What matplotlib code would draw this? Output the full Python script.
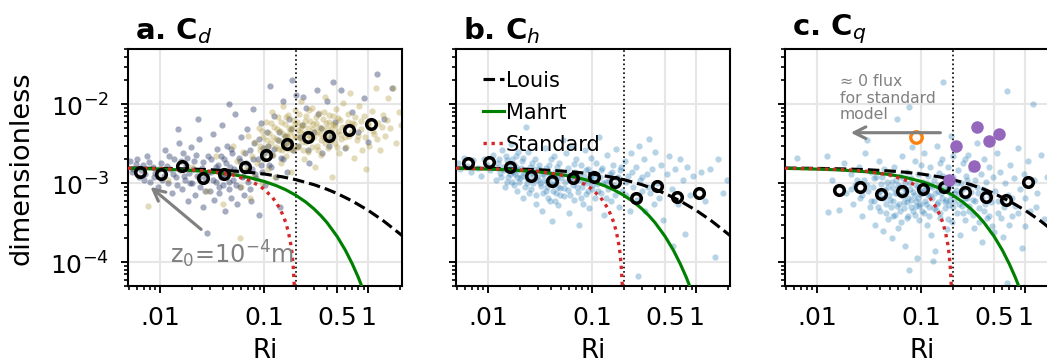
import matplotlib
matplotlib.use("Agg")
import matplotlib.pyplot as plt
from matplotlib.ticker import NullFormatter, LogLocator

# ---------------- model curves ----------------
louis_ri = [0.0049, 0.007, 0.01, 0.015, 0.02, 0.03, 0.05, 0.07, 0.1, 0.15, 0.2,
            0.3, 0.4, 0.5, 0.7, 1.0, 1.4, 2.1]
louis_c = [1.555e-3, 1.549e-3, 1.540e-3, 1.525e-3, 1.511e-3, 1.482e-3, 1.429e-3,
           1.378e-3, 1.307e-3, 1.202e-3, 1.110e-3, 9.58e-4, 8.38e-4, 7.41e-4,
           5.95e-4, 4.51e-4, 3.32e-4, 2.18e-4]

mahrt_ri = [0.0049, 0.007, 0.01, 0.015, 0.02, 0.03, 0.05, 0.07, 0.1, 0.13, 0.16,
            0.2, 0.25, 0.3, 0.35, 0.4, 0.5, 0.6, 0.7, 0.8, 0.9]
mahrt_c = [1.540e-3, 1.527e-3, 1.508e-3, 1.479e-3, 1.449e-3, 1.392e-3, 1.285e-3,
           1.187e-3, 1.052e-3, 9.33e-4, 8.28e-4, 7.05e-4, 5.78e-4, 4.73e-4,
           3.87e-4, 3.17e-4, 2.12e-4, 1.42e-4, 9.5e-5, 6.4e-5, 4.3e-5]

std_ri = [0.0049, 0.01, 0.02, 0.03, 0.05, 0.07, 0.09, 0.1, 0.12, 0.14, 0.15, 0.16,
          0.17, 0.18, 0.185, 0.19, 0.194]
std_c = [1.546e-3, 1.523e-3, 1.476e-3, 1.413e-3, 1.272e-3, 1.099e-3, 9.26e-4,
         8.32e-4, 6.59e-4, 4.87e-4, 4.0e-4, 3.22e-4, 2.43e-4, 1.65e-4, 1.26e-4,
         8.3e-5, 5.0e-5]

# ---------------- bin means (open circles) ----------------
bin_ri = [0.0064, 0.0102, 0.0162, 0.0256, 0.041, 0.065, 0.103, 0.164, 0.263,
          0.416, 0.655, 1.05]
bin_cd = [1.40e-3, 1.32e-3, 1.67e-3, 1.18e-3, 1.30e-3, 1.62e-3, 2.28e-3, 3.13e-3,
          3.88e-3, 3.92e-3, 4.66e-3, 5.56e-3]
bin_ch = [1.82e-3, 1.86e-3, 1.59e-3, 1.25e-3, 1.08e-3, 1.16e-3, 1.21e-3, 1.03e-3,
          6.47e-4, 9.25e-4, 6.66e-4, 7.6e-4]
bin_ri_q = [0.0161, 0.0256, 0.041, 0.065, 0.103, 0.164, 0.264, 0.418, 0.65, 1.05]
bin_cq = [8.23e-4, 9.06e-4, 7.33e-4, 8.07e-4, 8.56e-4, 8.9e-4, 7.7e-4, 6.66e-4,
          6.1e-4, 1.03e-3]

# special points in panel c
purple_ri = [0.217, 0.342, 0.442, 0.56, 0.32, 0.186]
purple_cq = [2.96e-3, 5.14e-3, 3.42e-3, 4.16e-3, 1.65e-3, 1.10e-3]
orange_ri = [0.089]
orange_cq = [3.87e-3]

# ---------------- individual samples (scatter clouds) ----------------
cd_blue = [
    (0.0051, 1.9e-3), (0.0055, 1.5e-3), (0.006, 2.0e-3), (0.0063, 1.2e-3), (0.0068, 1.7e-3),
    (0.0072, 1.3e-3), (0.0075, 2.2e-3), (0.008, 1.05e-3), (0.0085, 1.6e-3), (0.009, 1.35e-3),
    (0.0095, 9.0e-4), (0.0102, 1.8e-3), (0.0108, 1.25e-3), (0.0112, 2.6e-3), (0.0118, 1.0e-3),
    (0.0125, 1.5e-3), (0.013, 7.5e-4), (0.0136, 2.0e-3), (0.0142, 1.2e-3), (0.0148, 4.9e-3),
    (0.015, 3.2e-3), (0.0155, 1.45e-3), (0.016, 8.5e-4), (0.0166, 2.4e-3), (0.0172, 1.1e-3),
    (0.0178, 1.7e-3), (0.0185, 6.0e-4), (0.019, 1.35e-3), (0.0196, 2.9e-3), (0.0203, 1.0e-3),
    (0.021, 1.9e-3), (0.0218, 7.0e-4), (0.0225, 1.25e-3), (0.0229, 6.5e-3), (0.0235, 3.6e-3),
    (0.024, 9.0e-4), (0.025, 1.55e-3), (0.026, 5.0e-4), (0.027, 1.15e-3), (0.0281, 2.34e-4),
    (0.029, 2.2e-3), (0.03, 8.0e-4), (0.031, 1.4e-3), (0.032, 4.2e-3), (0.033, 6.2e-4),
    (0.034, 1.05e-3), (0.035, 2.7e-3), (0.036, 1.7e-3), (0.037, 7.5e-4), (0.038, 1.2e-3),
    (0.039, 5.5e-3), (0.04, 9.5e-4), (0.041, 2.0e-3), (0.042, 4.5e-4), (0.043, 1.3e-3),
    (0.044, 3.0e-3), (0.0454, 1.0e-2), (0.046, 8.5e-4), (0.047, 1.6e-3), (0.048, 6.5e-4),
    (0.049, 2.4e-3), (0.05, 1.1e-3), (0.052, 7.5e-3), (0.053, 1.4e-3), (0.055, 5.5e-4),
    (0.057, 2.1e-3), (0.059, 9.0e-4), (0.06, 3.8e-3), (0.062, 1.25e-3), (0.064, 7.0e-4),
    (0.066, 1.8e-3), (0.068, 4.8e-3), (0.07, 1.05e-3), (0.072, 2.6e-3), (0.074, 6.0e-4),
    (0.076, 1.5e-3), (0.078, 8.8e-3), (0.08, 3.2e-3), (0.083, 1.15e-3), (0.086, 2.0e-3),
    (0.089, 4.0e-4), (0.092, 5.8e-3), (0.095, 1.4e-3), (0.098, 2.8e-3), (0.102, 9.5e-4),
    (0.106, 4.4e-3), (0.11, 1.7e-3), (0.114, 1.69e-2), (0.118, 2.3e-3), (0.123, 7.0e-3),
    (0.128, 1.2e-3), (0.134, 3.5e-3), (0.14, 5.0e-4), (0.146, 2.1e-3), (0.152, 1.1e-2),
    (0.158, 4.0e-3), (0.165, 1.4e-3), (0.172, 6.5e-3), (0.184, 2.05e-2), (0.19, 2.6e-3),
    (0.2, 1.3e-2), (0.21, 3.0e-3), (0.23, 5.5e-3), (0.237, 1.22e-2), (0.25, 9.0e-3),
    (0.27, 1.8e-3), (0.3, 4.5e-3), (0.32, 1.5e-2), (0.33, 7.5e-3), (0.36, 2.4e-3),
    (0.4, 1.1e-2), (0.44, 3.8e-3), (0.46, 1.92e-2), (0.48, 6.0e-3), (0.55, 1.5e-2),
    (0.6, 2.8e-3), (0.7, 8.0e-3), (0.8, 4.5e-3), (0.9, 1.2e-2), (1.0, 3.3e-3),
    (1.2, 2.4e-2), (1.4, 6.5e-3), (1.7, 1.6e-2),
    (0.0053, 1.4e-3), (0.0058, 1.75e-3), (0.0065, 1.45e-3), (0.007, 1.1e-3), (0.0078, 1.85e-3),
    (0.0088, 1.2e-3), (0.0098, 1.5e-3), (0.0105, 1.1e-3), (0.0115, 1.65e-3), (0.0122, 2.2e-3),
    (0.0133, 1.3e-3), (0.0145, 9.5e-4), (0.0158, 1.9e-3), (0.0169, 1.25e-3), (0.0182, 2.1e-3),
    (0.0193, 1.0e-3), (0.0207, 1.5e-3), (0.0222, 2.3e-3), (0.0238, 1.2e-3), (0.0255, 1.85e-3),
    (0.0268, 8.0e-4), (0.0285, 1.4e-3), (0.0305, 2.0e-3), (0.0322, 1.1e-3), (0.0342, 1.6e-3),
    (0.0365, 9.0e-4), (0.0385, 2.2e-3), (0.0405, 1.3e-3), (0.043, 1.8e-3), (0.0455, 1.05e-3),
    (0.048, 2.7e-3), (0.051, 1.5e-3), (0.054, 9.5e-4), (0.058, 1.9e-3), (0.061, 1.2e-3),
    (0.065, 2.4e-3), (0.069, 1.45e-3), (0.073, 8.5e-4), (0.077, 2.0e-3), (0.081, 1.3e-3),
    (0.088, 3.6e-3), (0.093, 1.7e-3), (0.1, 2.4e-3), (0.108, 3.0e-3), (0.116, 1.6e-3),
    (0.125, 2.7e-3), (0.137, 4.5e-3), (0.15, 2.0e-3), (0.16, 3.2e-3), (0.18, 4.8e-3),
    (0.22, 3.8e-3), (0.26, 2.6e-3), (0.35, 5.0e-3), (0.42, 3.0e-3),
]
cd_tan = [
    (0.0077, 5.2e-4), (0.012, 1.1e-3), (0.02, 1.6e-3), (0.028, 8.0e-4), (0.034, 2.2e-3),
    (0.04, 5.5e-4), (0.045, 1.3e-3), (0.05, 3.0e-3), (0.055, 1.9e-3), (0.058, 2.0e-4),
    (0.06, 9.0e-4), (0.063, 2.5e-3), (0.066, 1.5e-3), (0.07, 4.0e-3), (0.073, 6.5e-4),
    (0.076, 2.2e-3), (0.079, 1.2e-3), (0.082, 3.3e-3), (0.085, 1.8e-3), (0.088, 5.0e-3),
    (0.091, 2.6e-3), (0.094, 1.0e-3), (0.097, 3.8e-3), (0.1, 2.0e-3), (0.103, 6.0e-3),
    (0.106, 2.9e-3), (0.109, 1.5e-3), (0.112, 4.3e-3), (0.115, 3.2e-3), (0.118, 8.0e-3),
    (0.121, 2.3e-3), (0.124, 5.2e-3), (0.127, 1.2e-3), (0.13, 3.6e-3), (0.134, 6.8e-3),
    (0.138, 2.7e-3), (0.142, 4.6e-3), (0.146, 1.8e-3), (0.15, 9.5e-3), (0.154, 3.1e-3),
    (0.158, 5.6e-3), (0.162, 2.2e-3), (0.166, 4.0e-3), (0.17, 7.2e-3), (0.175, 3.4e-3),
    (0.18, 1.4e-3), (0.185, 5.0e-3), (0.19, 2.6e-3), (0.195, 8.5e-3), (0.2, 3.8e-3),
    (0.206, 6.0e-3), (0.212, 2.9e-3), (0.218, 4.4e-3), (0.224, 1.1e-2), (0.23, 3.3e-3),
    (0.236, 5.4e-3), (0.243, 2.0e-3), (0.25, 7.0e-3), (0.257, 4.1e-3), (0.264, 2.5e-3),
    (0.272, 6.2e-3), (0.28, 3.6e-3), (0.288, 9.0e-3), (0.296, 4.8e-3), (0.305, 1.6e-3),
    (0.314, 5.8e-3), (0.323, 3.0e-3), (0.333, 7.8e-3), (0.343, 4.2e-3), (0.353, 2.3e-3),
    (0.364, 6.5e-3), (0.375, 3.9e-3), (0.386, 1.25e-2), (0.398, 5.0e-3), (0.41, 2.8e-3),
    (0.422, 7.2e-3), (0.435, 4.4e-3), (0.448, 1.2e-3), (0.46, 5.6e-3), (0.475, 3.2e-3),
    (0.49, 8.8e-3), (0.505, 4.6e-3), (0.52, 2.4e-3), (0.535, 6.4e-3), (0.55, 3.6e-3),
    (0.57, 1.05e-2), (0.59, 5.2e-3), (0.61, 2.9e-3), (0.63, 7.5e-3), (0.65, 4.0e-3),
    (0.67, 1.4e-2), (0.69, 5.8e-3), (0.72, 2.1e-3), (0.75, 6.8e-3), (0.78, 3.5e-3),
    (0.81, 9.5e-3), (0.84, 4.8e-3), (0.87, 2.6e-3), (0.9, 7.0e-3), (0.94, 1.5e-3),
    (0.98, 5.4e-3), (1.02, 3.0e-3), (1.07, 8.2e-3), (1.12, 4.2e-3), (1.18, 1.6e-2),
    (1.24, 5.8e-3), (1.3, 2.6e-3), (1.37, 7.4e-3), (1.45, 4.0e-3), (1.53, 1.2e-2),
    (1.62, 5.0e-3), (1.72, 1.6e-2), (1.82, 3.2e-3), (1.95, 8.0e-3), (2.05, 5.5e-3),
    (0.09, 3.0e-3), (0.095, 4.6e-3), (0.105, 3.5e-3), (0.11, 2.4e-3), (0.116, 5.8e-3),
    (0.122, 3.9e-3), (0.128, 2.9e-3), (0.132, 4.8e-3), (0.14, 3.4e-3), (0.144, 6.0e-3),
    (0.148, 2.6e-3), (0.152, 4.2e-3), (0.156, 3.0e-3), (0.16, 6.8e-3), (0.164, 3.8e-3),
    (0.168, 2.7e-3), (0.172, 5.0e-3), (0.177, 4.4e-3), (0.182, 3.1e-3), (0.188, 6.4e-3),
    (0.193, 4.0e-3), (0.198, 5.6e-3), (0.203, 2.9e-3), (0.209, 4.7e-3), (0.215, 7.6e-3),
    (0.221, 3.7e-3), (0.227, 5.2e-3), (0.233, 2.6e-3), (0.24, 4.3e-3), (0.247, 6.2e-3),
    (0.254, 3.3e-3), (0.261, 5.0e-3), (0.268, 8.4e-3), (0.276, 4.0e-3), (0.284, 2.9e-3),
    (0.292, 5.6e-3), (0.3, 3.8e-3), (0.31, 6.8e-3), (0.319, 4.4e-3), (0.328, 2.6e-3),
    (0.338, 5.2e-3), (0.348, 3.5e-3), (0.358, 4.8e-3), (0.37, 8.0e-3), (0.38, 3.2e-3),
    (0.392, 5.8e-3), (0.404, 4.0e-3), (0.416, 6.0e-3), (0.43, 3.4e-3), (0.442, 5.0e-3),
    (0.455, 7.0e-3), (0.468, 3.9e-3), (0.482, 5.4e-3), (0.497, 2.9e-3), (0.512, 6.6e-3),
    (0.53, 4.2e-3), (0.56, 5.2e-3), (0.6, 3.9e-3), (0.64, 6.0e-3), (0.68, 4.4e-3),
    (0.73, 5.6e-3), (0.79, 4.0e-3), (0.85, 6.2e-3), (0.92, 3.8e-3), (1.0, 5.8e-3),
    (1.1, 4.6e-3), (1.2, 3.6e-3), (1.35, 5.2e-3), (1.5, 6.4e-3),
]
ch_pts = [
    (0.0051, 1.8e-3), (0.0054, 1.5e-3), (0.0058, 2.1e-3), (0.0062, 1.65e-3), (0.0068, 1.4e-3),
    (0.0072, 1.95e-3), (0.0079, 1.55e-3), (0.0085, 1.25e-3), (0.0092, 2.05e-3), (0.0098, 1.7e-3),
    (0.0105, 1.45e-3), (0.011, 2.3e-3), (0.0118, 1.1e-3), (0.0124, 1.8e-3), (0.013, 1.35e-3),
    (0.0135, 2.6e-3), (0.014, 1.6e-3), (0.0146, 9.0e-4), (0.015, 1.95e-3), (0.0155, 1.2e-3),
    (0.016, 1.5e-3), (0.0166, 3.1e-3), (0.017, 1.05e-3), (0.0175, 1.75e-3), (0.018, 1.3e-3),
    (0.0186, 2.2e-3), (0.019, 8.0e-4), (0.0195, 1.45e-3), (0.0202, 1.15e-3), (0.021, 1.9e-3),
    (0.0215, 6.5e-4), (0.022, 1.35e-3), (0.023, 5.2e-3), (0.0235, 1.0e-3), (0.024, 2.5e-3),
    (0.025, 1.6e-3), (0.026, 8.5e-4), (0.027, 1.25e-3), (0.028, 2.0e-3), (0.029, 7.0e-4),
    (0.03, 1.1e-3), (0.031, 1.5e-3), (0.032, 9.2e-4), (0.033, 4.5e-4), (0.034, 1.3e-3),
    (0.035, 2.8e-3), (0.036, 8.0e-4), (0.037, 1.05e-3), (0.038, 1.7e-3), (0.039, 6.0e-4),
    (0.04, 1.2e-3), (0.041, 3.3e-4), (0.042, 9.5e-4), (0.043, 2.2e-3), (0.044, 1.4e-3),
    (0.045, 7.5e-4), (0.046, 1.15e-3), (0.047, 5.3e-4), (0.048, 1.8e-3), (0.049, 8.8e-4),
    (0.051, 1.3e-3), (0.052, 3.5e-3), (0.053, 6.8e-4), (0.055, 1.05e-3), (0.056, 2.4e-3),
    (0.058, 8.2e-4), (0.059, 1.55e-3), (0.06, 4.2e-4), (0.062, 1.2e-3), (0.063, 2.9e-3),
    (0.065, 9.5e-4), (0.066, 6.2e-4), (0.068, 1.4e-3), (0.07, 2.0e-3), (0.072, 7.8e-4),
    (0.073, 1.1e-3), (0.075, 3.0e-4), (0.077, 1.7e-3), (0.079, 9.0e-4), (0.081, 5.5e-4),
    (0.083, 1.25e-3), (0.085, 2.6e-3), (0.087, 7.2e-4), (0.089, 1.0e-3), (0.091, 1.5e-3),
    (0.093, 4.8e-4), (0.095, 1.15e-3), (0.097, 2.1e-3), (0.099, 8.5e-4), (0.102, 1.35e-3),
    (0.105, 6.5e-4), (0.108, 1.8e-3), (0.111, 9.8e-4), (0.115, 3.8e-3), (0.118, 1.2e-3),
    (0.122, 7.5e-4), (0.125, 1.55e-3), (0.13, 4.0e-4), (0.134, 1.05e-3), (0.138, 2.3e-3),
    (0.142, 8.5e-4), (0.147, 1.3e-3), (0.152, 6.0e-4), (0.157, 1.7e-3), (0.163, 9.5e-4),
    (0.168, 2.7e-3), (0.174, 1.15e-3), (0.18, 5.0e-4), (0.186, 1.45e-3), (0.193, 8.0e-4),
    (0.205, 1.9e-3), (0.212, 7.0e-4), (0.22, 1.25e-3), (0.228, 4.5e-4), (0.236, 2.4e-3),
    (0.245, 9.0e-4), (0.26, 1.6e-3), (0.27, 6.2e-4), (0.272, 6.6e-5), (0.28, 3.0e-3),
    (0.29, 1.1e-3), (0.3, 8.0e-4), (0.31, 2.0e-3), (0.32, 4.5e-4), (0.335, 1.3e-3),
    (0.35, 3.6e-3), (0.36, 7.5e-4), (0.375, 1.5e-3), (0.39, 5.5e-4), (0.4, 2.5e-3),
    (0.42, 1.0e-3), (0.44, 6.5e-4), (0.46, 1.7e-3), (0.48, 3.4e-4), (0.52, 1.3e-3),
    (0.55, 2.2e-3), (0.58, 8.5e-4), (0.6, 1.6e-4), (0.62, 1.5e-3), (0.66, 5.5e-4),
    (0.7, 2.0e-3), (0.74, 1.1e-3), (0.78, 2.3e-4), (0.82, 1.6e-3), (0.87, 7.0e-4),
    (0.92, 1.25e-3), (1.1, 1.4e-3), (1.2, 6.0e-4), (1.35, 1.5e-3), (1.5, 1.15e-4),
    (1.6, 2.0e-3), (1.8, 7.5e-4), (1.95, 1.1e-3),
    (0.0122, 1.55e-3), (0.0128, 2.0e-3), (0.0133, 1.2e-3), (0.0143, 1.45e-3), (0.0148, 2.2e-3),
    (0.0152, 1.05e-3), (0.0158, 1.75e-3), (0.0163, 1.3e-3), (0.0168, 2.0e-3), (0.0173, 1.4e-3),
    (0.0178, 9.5e-4), (0.0183, 1.6e-3), (0.0188, 1.2e-3), (0.0193, 2.5e-3), (0.0198, 1.05e-3),
    (0.0206, 1.55e-3), (0.0212, 1.25e-3), (0.0218, 2.1e-3), (0.0225, 9.0e-4), (0.0232, 1.45e-3),
    (0.0238, 1.15e-3), (0.0245, 7.5e-4), (0.0255, 1.35e-3), (0.0262, 1.8e-3), (0.0268, 1.0e-3),
    (0.0275, 1.5e-3), (0.0285, 5.5e-4), (0.0295, 1.2e-3), (0.0305, 1.7e-3), (0.0315, 1.0e-3),
    (0.0325, 1.3e-3), (0.0335, 7.5e-4), (0.0345, 1.1e-3), (0.0355, 1.55e-3), (0.0365, 9.0e-4),
    (0.0375, 6.5e-4), (0.0385, 1.35e-3), (0.0395, 1.0e-3), (0.0405, 2.0e-3), (0.0415, 8.0e-4),
    (0.0425, 1.25e-3), (0.0435, 6.0e-4), (0.0445, 1.05e-3), (0.0455, 1.6e-3), (0.0465, 9.0e-4),
    (0.0475, 1.3e-3), (0.0485, 7.0e-4), (0.05, 1.15e-3), (0.054, 8.8e-4), (0.057, 1.3e-3),
    (0.061, 7.0e-4), (0.064, 1.1e-3), (0.067, 1.75e-3), (0.071, 9.0e-4), (0.074, 1.3e-3),
    (0.078, 6.5e-4), (0.082, 1.05e-3), (0.086, 1.45e-3), (0.09, 8.0e-4), (0.094, 1.2e-3),
    (0.1, 9.5e-4), (0.107, 1.2e-3), (0.113, 8.0e-4), (0.12, 1.45e-3), (0.127, 1.0e-3),
    (0.136, 6.5e-4), (0.145, 1.1e-3), (0.155, 1.4e-3), (0.165, 7.0e-4), (0.178, 1.2e-3),
    (0.19, 1.6e-3), (0.21, 1.05e-3), (0.24, 1.4e-3), (0.3, 1.2e-3), (0.34, 9.0e-4),
]
cq_pts = [
    (0.0064, 2.1e-3), (0.0125, 2.2e-3), (0.0127, 4.3e-4), (0.016, 4.6e-4), (0.014, 1.1e-3),
    (0.018, 1.8e-3), (0.019, 7.5e-4), (0.021, 1.3e-3), (0.022, 5.5e-4), (0.023, 9.5e-4),
    (0.025, 1.6e-3), (0.026, 6.5e-4), (0.027, 3.8e-4), (0.028, 1.1e-3), (0.029, 2.4e-3),
    (0.03, 3.5e-3), (0.031, 8.0e-4), (0.032, 5.0e-4), (0.033, 1.4e-3), (0.034, 9.0e-4),
    (0.035, 6.0e-4), (0.036, 3.0e-4), (0.037, 1.2e-3), (0.038, 7.2e-4), (0.039, 1.9e-3),
    (0.04, 4.5e-4), (0.041, 9.8e-4), (0.042, 6.5e-4), (0.043, 2.5e-4), (0.044, 1.5e-3),
    (0.045, 8.2e-4), (0.046, 5.5e-4), (0.047, 1.05e-3), (0.048, 3.5e-4), (0.049, 7.0e-4),
    (0.05, 1.3e-3), (0.051, 5.0e-4), (0.052, 2.0e-4), (0.053, 8.8e-4), (0.054, 6.0e-4),
    (0.055, 1.6e-3), (0.056, 4.0e-4), (0.057, 1.1e-3), (0.058, 6.5e-3), (0.059, 7.5e-4),
    (0.06, 2.7e-4), (0.061, 5.5e-4), (0.062, 1.25e-3), (0.063, 9.0e-4), (0.064, 3.2e-4),
    (0.065, 2.2e-3), (0.066, 6.8e-4), (0.068, 4.8e-4), (0.069, 1.0e-3), (0.07, 1.6e-4),
    (0.071, 7.8e-4), (0.072, 1.4e-3), (0.073, 5.8e-4), (0.075, 3.8e-4), (0.076, 9.3e-3),
    (0.0765, 8.0e-5), (0.078, 8.5e-4), (0.079, 6.2e-4), (0.08, 1.15e-3), (0.082, 2.9e-3),
    (0.083, 4.4e-4), (0.085, 7.0e-4), (0.086, 1.9e-3), (0.088, 5.2e-4), (0.089, 9.5e-4),
    (0.09, 1.13e-4), (0.092, 6.5e-4), (0.093, 1.3e-3), (0.095, 3.4e-4), (0.096, 8.0e-4),
    (0.098, 5.5e-4), (0.099, 1.7e-3), (0.101, 7.5e-4), (0.103, 1.05e-3), (0.105, 4.2e-4),
    (0.107, 2.4e-3), (0.109, 6.0e-4), (0.111, 8.8e-4), (0.113, 3.0e-4), (0.115, 1.25e-3),
    (0.117, 7.0e-4), (0.119, 5.0e-4), (0.121, 1.6e-3), (0.123, 9.5e-4), (0.125, 2.2e-4),
    (0.127, 6.5e-4), (0.13, 1.03e-4), (0.132, 1.1e-3), (0.135, 1.4e-4), (0.137, 4.6e-4),
    (0.14, 3.0e-3), (0.143, 8.0e-4), (0.146, 5.8e-4), (0.149, 1.35e-3), (0.152, 3.6e-4),
    (0.155, 7.5e-4), (0.158, 2.0e-3), (0.161, 1.9e-2), (0.164, 9.0e-4), (0.167, 4.8e-4),
    (0.17, 1.15e-3), (0.173, 6.2e-4), (0.176, 2.6e-4), (0.179, 1.6e-3), (0.182, 8.5e-4),
    (0.185, 5.3e-4), (0.188, 1.05e-3), (0.191, 4.0e-3), (0.194, 7.0e-4), (0.197, 3.2e-4),
    (0.203, 1.2e-3), (0.207, 6.0e-4), (0.212, 2.6e-3), (0.216, 8.2e-4), (0.22, 4.2e-4),
    (0.225, 1.45e-3), (0.23, 7.2e-4), (0.235, 2.2e-4), (0.24, 1.0e-3), (0.245, 5.2e-4),
    (0.25, 1.8e-3), (0.256, 8.8e-4), (0.262, 3.4e-4), (0.268, 1.25e-3), (0.274, 6.5e-4),
    (0.28, 2.3e-3), (0.287, 4.5e-4), (0.294, 9.5e-4), (0.3, 1.5e-3), (0.31, 6.2e-4),
    (0.32, 2.7e-4), (0.33, 1.1e-3), (0.34, 3.2e-3), (0.35, 7.5e-4), (0.36, 4.8e-4),
    (0.37, 1.3e-3), (0.38, 1.8e-4), (0.39, 8.5e-4), (0.4, 2.0e-3), (0.41, 5.5e-4),
    (0.42, 1.05e-3), (0.43, 3.6e-4), (0.45, 1.6e-3), (0.46, 6.8e-4), (0.48, 2.9e-4),
    (0.49, 1.2e-3), (0.51, 8.0e-4), (0.53, 2.4e-3), (0.55, 4.2e-4), (0.57, 1.4e-3),
    (0.59, 6.0e-4), (0.61, 2.1e-4), (0.63, 1.0e-3), (0.66, 1.48e-2), (0.665, 5.5e-5),
    (0.68, 7.0e-4), (0.71, 1.7e-3), (0.74, 3.8e-4), (0.77, 1.15e-3), (0.8, 5.2e-4),
    (0.84, 2.8e-3), (0.88, 8.5e-4), (0.92, 1.5e-4), (0.96, 1.3e-3), (1.0, 6.5e-4),
    (1.05, 1.9e-3), (1.1, 4.5e-4), (1.18, 1.0e-2), (1.2, 1.1e-3), (1.3, 7.5e-4),
    (1.4, 2.3e-3), (1.5, 3.5e-4), (1.6, 1.2e-3),
    (0.021, 8.5e-4), (0.024, 1.1e-3), (0.027, 7.0e-4), (0.03, 9.5e-4), (0.033, 6.0e-4),
    (0.035, 1.15e-3), (0.038, 5.0e-4), (0.04, 8.0e-4), (0.042, 1.2e-3), (0.044, 6.5e-4),
    (0.046, 4.2e-4), (0.048, 9.0e-4), (0.05, 6.2e-4), (0.052, 1.05e-3), (0.054, 3.8e-4),
    (0.056, 7.5e-4), (0.058, 5.2e-4), (0.06, 9.5e-4), (0.062, 4.5e-4), (0.064, 7.0e-4),
    (0.066, 1.15e-3), (0.068, 5.8e-4), (0.07, 8.5e-4), (0.072, 3.6e-4), (0.074, 6.5e-4),
    (0.077, 1.0e-3), (0.08, 5.0e-4), (0.083, 7.8e-4), (0.086, 4.0e-4), (0.089, 6.0e-4),
    (0.092, 9.0e-4), (0.095, 5.2e-4), (0.098, 7.2e-4), (0.102, 4.5e-4), (0.106, 8.2e-4),
    (0.11, 5.5e-4), (0.114, 1.0e-3), (0.118, 3.8e-4), (0.122, 6.8e-4), (0.126, 9.0e-4),
    (0.131, 4.8e-4), (0.136, 7.5e-4), (0.141, 5.5e-4), (0.146, 9.5e-4), (0.151, 4.2e-4),
    (0.157, 6.5e-4), (0.163, 1.25e-3), (0.169, 5.8e-4), (0.175, 8.0e-4), (0.181, 3.5e-4),
    (0.187, 6.2e-4), (0.193, 9.5e-4), (0.2, 5.0e-4), (0.208, 7.5e-4), (0.218, 1.0e-3),
    (0.228, 5.5e-4), (0.238, 8.0e-4), (0.25, 4.2e-4), (0.26, 6.5e-4), (0.272, 1.1e-3),
    (0.285, 5.2e-4), (0.298, 7.8e-4), (0.315, 4.0e-4), (0.33, 6.0e-4), (0.345, 9.0e-4),
    (0.36, 3.2e-4), (0.38, 6.5e-4), (0.4, 4.5e-4), (0.42, 8.0e-4), (0.45, 3.8e-4),
    (0.47, 5.8e-4), (0.5, 2.4e-4), (0.54, 6.0e-4), (0.58, 3.6e-4), (0.62, 5.0e-4),
    (0.7, 3.0e-4), (0.75, 6.5e-4), (0.85, 4.2e-4), (1.0, 2.9e-4), (1.25, 5.0e-4),
    (0.2, 2.2e-3), (0.26, 2.0e-3), (0.33, 1.6e-3), (0.15, 1.8e-3),
]

titles = ["a. C$_d$", "b. C$_h$", "c. C$_q$"]
xtick_vals = [0.01, 0.1, 0.5, 1]
xtick_labels = [".01", "0.1", "0.5", "1"]

# ---------------- figure ----------------
W, H = 1047, 365
fig = plt.figure(figsize=(W / 150, H / 150), dpi=150)
ax_w, ax_h = 274 / W, 237 / H
bottom = 1 - 287 / H
lefts = [128 / W, 456 / W, 785 / W]
axes = [fig.add_axes([l, bottom, ax_w, ax_h]) for l in lefts]

blue = "#1f77b4"
for i, ax in enumerate(axes):
    ax.set_xscale("log")
    ax.set_yscale("log")
    ax.set_xlim(0.0049, 2.1)
    ax.set_ylim(5e-5, 5e-2)
    ax.set_axisbelow(True)
    ax.grid(True, which="major", color="#e6e6e6", lw=1.0)
    ax.set_xticks(xtick_vals)
    ax.set_xticklabels(xtick_labels)
    ax.xaxis.set_minor_locator(LogLocator(base=10, subs=range(2, 10), numticks=20))
    ax.xaxis.set_minor_formatter(NullFormatter())
    ax.yaxis.set_minor_locator(LogLocator(base=10, subs=range(2, 10), numticks=20))
    ax.yaxis.set_minor_formatter(NullFormatter())
    ax.tick_params(which="major", labelsize=12, length=3.5, width=0.9, pad=5.5)
    ax.tick_params(which="minor", length=2.0, width=0.8)
    for s in ax.spines.values():
        s.set_linewidth(1.0)
    ax.set_xlabel("Ri", fontsize=12.5, labelpad=4)
    ax.text(0.025, 1.015, titles[i], transform=ax.transAxes, fontsize=14,
            fontweight="bold", ha="left", va="bottom")
    if i > 0:
        ax.tick_params(labelleft=False)
    ax.axvline(0.2, color="black", lw=0.8, ls=":", zorder=2)

axes[0].set_ylabel("dimensionless", fontsize=13, labelpad=7.5)

# scatter clouds
x, y = zip(*cd_blue)
axes[0].scatter(x, y, s=9, color="#2b3a67", alpha=0.42, lw=0, zorder=1)
x, y = zip(*cd_tan)
axes[0].scatter(x, y, s=9, color="#a8902a", alpha=0.33, lw=0, zorder=1)
x, y = zip(*ch_pts)
axes[1].scatter(x, y, s=9, color=blue, alpha=0.32, lw=0, zorder=1)
x, y = zip(*cq_pts)
axes[2].scatter(x, y, s=9, color=blue, alpha=0.32, lw=0, zorder=1)

# model curves
for ax in axes:
    ax.plot(louis_ri, louis_c, color="black", ls="--", lw=1.5, label="Louis", zorder=3)
    ax.plot(mahrt_ri, mahrt_c, color="green", ls="-", lw=1.5, label="Mahrt", zorder=3)
    ax.plot(std_ri, std_c, color="#d62728", ls=(0, (1, 1.4)), lw=1.6, label="Standard",
            zorder=3)

circ = dict(ls="none", marker="o", ms=4.6, mfc="none", mec="black", mew=1.7, zorder=4)
axes[0].plot(bin_ri, bin_cd, **circ)
axes[1].plot(bin_ri, bin_ch, **circ)
axes[2].plot(bin_ri_q, bin_cq, **circ)

axes[2].plot(purple_ri, purple_cq, ls="none", marker="o", ms=5, color="#9467bd",
             mec="#9467bd", zorder=5)
axes[2].plot(orange_ri, orange_cq, ls="none", marker="o", ms=5.5, mfc="none",
             mec="#ff7f0e", mew=1.6, zorder=5)

axes[1].legend(loc="upper left", bbox_to_anchor=(0.03, 0.99), frameon=False,
               fontsize=10, handlelength=1.0, handletextpad=0.1, labelspacing=0.57)

# annotations
axes[0].annotate("", xy=(0.0075, 9.7e-4), xytext=(0.0265, 2.41e-4),
                 arrowprops=dict(arrowstyle="->", color="gray", lw=1.5, mutation_scale=14),
                 zorder=6)
axes[0].text(0.0123, 9.9e-5, "z$_0$=10$^{-4}$m", color="gray", fontsize=11.5,
             ha="left", va="baseline", zorder=6)

axes[2].annotate("", xy=(0.0191, 4.36e-3), xytext=(0.167, 4.36e-3),
                 arrowprops=dict(arrowstyle="->", color="gray", lw=1.5, mutation_scale=14),
                 zorder=6)
axes[2].text(0.0165, 2.5e-2, "\u2248 0 flux\nfor standard\nmodel", color="gray",
             fontsize=7.5, ha="left", va="top", linespacing=1.15, zorder=6)

fig.savefig("out.png", dpi=150)
